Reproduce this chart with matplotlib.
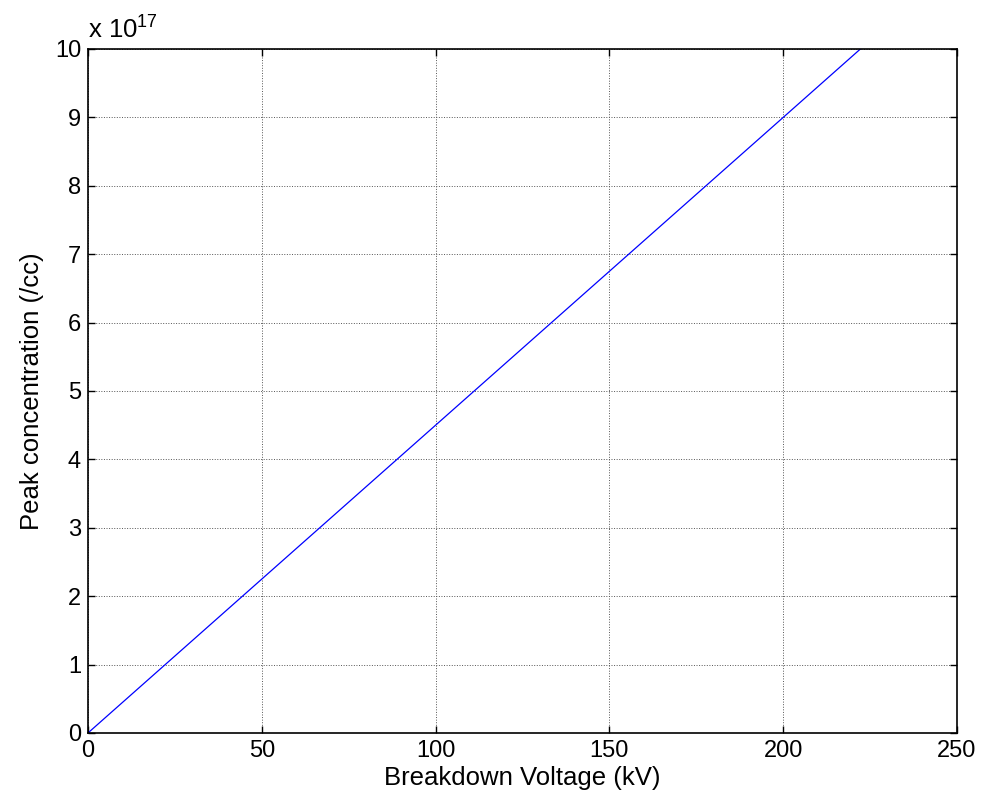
import matplotlib.pyplot as plt
import numpy as np

plt.rcParams['font.family'] = ['Liberation Sans', 'DejaVu Sans']
plt.rcParams['mathtext.fontset'] = 'custom'
plt.rcParams['mathtext.rm'] = 'Liberation Sans'
plt.rcParams['mathtext.it'] = 'Liberation Sans'

# breakdown voltage (kV) vs peak doping concentration (/cc)
breakdown_kv = [0, 50, 100, 150, 200, 222.2]
peak_conc = [0, 2.25e17, 4.5e17, 6.75e17, 9.0e17, 10.0e17]
scale = 1e17

x_ticks = [0, 50, 100, 150, 200, 250]
y_ticks = list(range(0, 11))

fig = plt.figure(figsize=(9.84, 8.11), dpi=100)
ax = fig.add_axes([0.0894, 0.0962, 0.9726 - 0.0894, 0.9396 - 0.0962])

ax.plot(breakdown_kv, np.array(peak_conc) / scale, color='#0000ff', lw=0.9)

ax.set_xlim(0, 250)
ax.set_ylim(0, 10)
ax.set_xticks(x_ticks)
ax.set_yticks(y_ticks)
ax.tick_params(direction='in', length=5, width=1, top=True, right=True,
               labelsize=17, pad=5)
ax.grid(True, color='#555555', linestyle=':', linewidth=0.7)
for s in ax.spines.values():
    s.set_linewidth(1.2)

ax.set_xlabel('Breakdown Voltage (kV)', fontsize=18.5, labelpad=3)
ax.set_ylabel('Peak concentration (/cc)', fontsize=18.5, labelpad=8)
ax.text(0.0, 1.008, r'x $\mathregular{10^{17}}$', transform=ax.transAxes,
        fontsize=18.5, ha='left', va='bottom')

fig.savefig('out.png', dpi=100)
